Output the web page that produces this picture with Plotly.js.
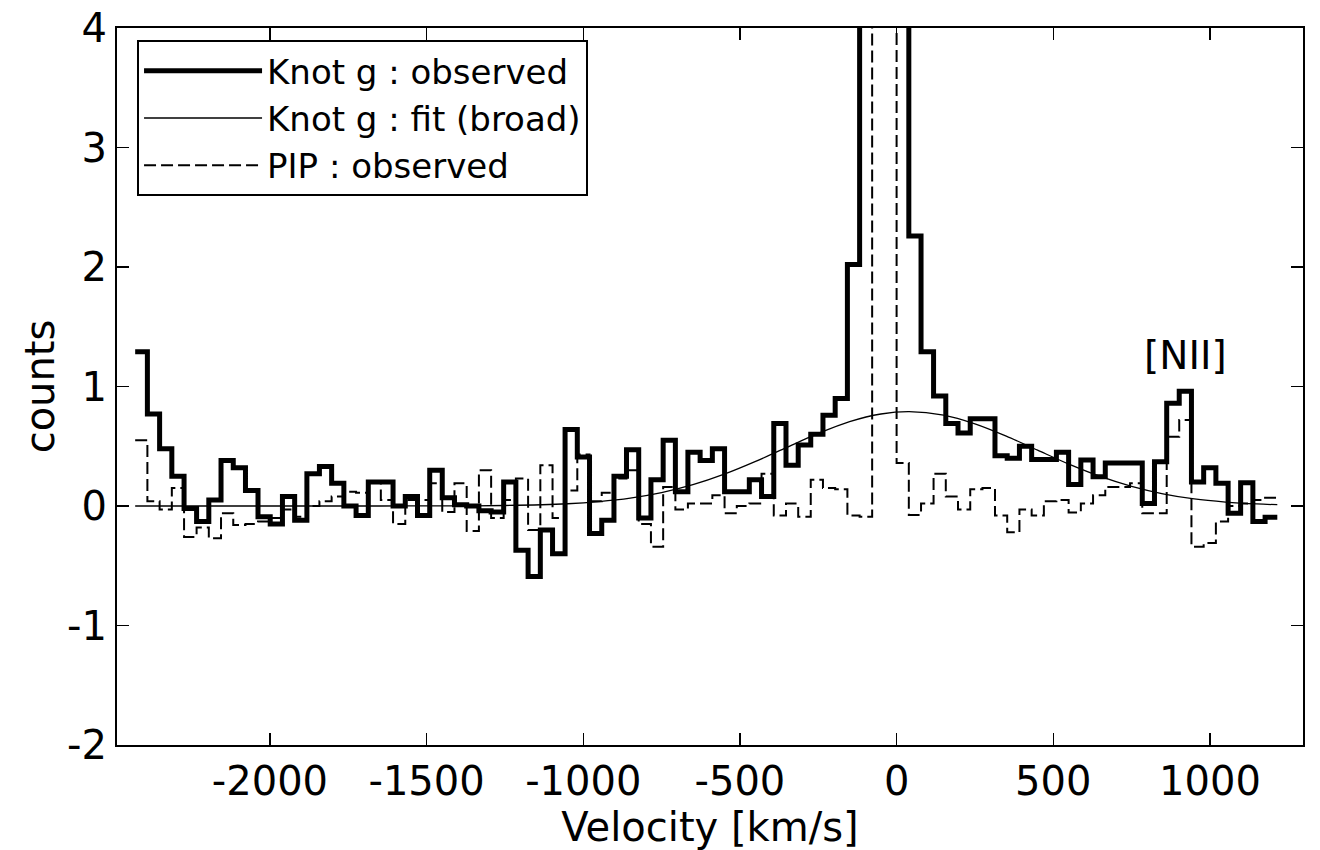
<!DOCTYPE html>
<html>
<head>
<meta charset="utf-8">
<script src="https://cdn.plot.ly/plotly-3.0.1.min.js"></script>
<style>
  html, body { margin: 0; padding: 0; background: #fff; }
  #chart { width: 1320px; height: 850px; }
</style>
</head>
<body>
<div id="chart"></div>
<script>
// Velocity bin edges [km/s] (left edges, final value = right edge of last bin)
const binEdges = [
  -2430, -2391, -2352, -2313, -2274, -2234, -2195, -2156, -2117, -2078,
  -2038, -1999, -1960, -1921, -1882, -1842, -1803, -1764, -1725, -1686,
  -1646, -1607, -1568, -1529, -1490, -1450, -1411, -1372, -1333, -1294,
  -1254, -1215, -1176, -1137, -1098, -1058, -1019, -980, -941, -902,
  -862, -823, -784, -745, -706, -666, -627, -588, -549, -510,
  -470, -431, -392, -353, -314, -274, -235, -196, -157, -118,
  -78, -39, 0, 39, 78, 118, 157, 196, 235, 274,
  314, 353, 392, 431, 470, 510, 549, 588, 627, 666,
  706, 745, 784, 823, 862, 902, 941, 980, 1019, 1058,
  1098, 1137, 1176, 1215
];

// Knot g : observed (counts per bin)
const knotObserved = [
  1.29, 0.77, 0.48, 0.25, -0.02, -0.13, 0.05, 0.38, 0.32, 0.13,
  -0.09, -0.15, 0.08, -0.12, 0.27, 0.33, 0.19, 0.00, -0.08, 0.20,
  0.20, 0.00, 0.08, -0.08, 0.30, 0.07, 0.01, 0.00, -0.04, -0.05,
  0.20, -0.37, -0.59, -0.20, -0.40, 0.64, 0.41, -0.23, -0.12, 0.25,
  0.47, -0.10, 0.22, 0.55, 0.12, 0.45, 0.38, 0.48, 0.12, 0.12,
  0.22, 0.08, 0.69, 0.34, 0.51, 0.60, 0.76, 0.90, 2.02, 6.50,
  9.00, 9.50, 7.00, 2.26, 1.29, 0.92, 0.69, 0.61, 0.73, 0.73,
  0.42, 0.40, 0.50, 0.39, 0.39, 0.45, 0.18, 0.385, 0.245, 0.36,
  0.36, 0.36, 0.02, 0.37, 0.86, 0.96, 0.20, 0.32, 0.19, -0.06,
  0.195, -0.13, -0.095
];

// PIP : observed (counts per bin)
const pipObserved = [
  0.55, 0.04, -0.03, 0.15, -0.26, -0.18, -0.27, -0.06, -0.16, -0.15,
  -0.13, -0.10, -0.03, -0.09, 0.00, 0.04, 0.08, 0.12, 0.11, 0.20,
  0.05, -0.15, 0.05, 0.05, 0.19, -0.05, 0.19, -0.21, 0.30, -0.10,
  0.05, 0.23, -0.20, 0.34, -0.10, 0.13, 0.43, 0.04, 0.11, 0.23,
  0.30, -0.15, -0.34, 0.16, -0.03, 0.02, 0.02, 0.09, -0.06, 0.00,
  0.02, 0.27, -0.08, 0.02, -0.09, 0.22, 0.15, 0.14, -0.08, -0.09,
  8.00, 8.00, 0.36, -0.075, 0.02, 0.27, 0.08, -0.03, 0.14, 0.15,
  -0.08, -0.22, -0.03, -0.08, 0.04, 0.05, -0.055, 0.02, 0.09, 0.16,
  0.16, 0.19, -0.06, -0.06, 0.58, 0.72, -0.34, -0.31, -0.13, 0.00,
  0.02, 0.05, 0.07
];

// Knot g : fit (broad) — sampled from the curve
const fitVelocity = [
  -2430, -2000, -1650, -1450, -1250, -1050, -950, -850, -750, -650,
  -550, -450, -350, -250, -150, -50, 40, 150, 250, 350,
  450, 550, 650, 750, 850, 950, 1050, 1150, 1215
];
const fitCounts = [
  0.000, 0.000, 0.000, 0.001, 0.004, 0.019, 0.037, 0.066, 0.112, 0.178,
  0.266, 0.373, 0.491, 0.607, 0.706, 0.770, 0.790, 0.761, 0.688, 0.585,
  0.467, 0.350, 0.247, 0.164, 0.102, 0.059, 0.033, 0.017, 0.011
];

// Axis ticks
const xTickVals = [-2000, -1500, -1000, -500, 0, 500, 1000];
const xTickText = ['-2000', '-1500', '-1000', '-500', '0', '500', '1000'];
const yTickVals = [-2, -1, 0, 1, 2, 3, 4];
const yTickText = ['-2', '-1', '0', '1', '2', '3', '4'];

// Labels
const seriesNames = ['Knot g : observed', 'Knot g : fit (broad)', 'PIP : observed'];
const lineLabel = '[NII]';
const lineLabelVelocity = 921;
const lineLabelCounts = 1.26;

const FONT = 'DejaVu Sans, Bitstream Vera Sans, sans-serif';

function stepY(vals) { return vals.concat([vals[vals.length - 1]]); }

const traces = [
  {
    x: binEdges, y: stepY(knotObserved), name: seriesNames[0],
    type: 'scatter', mode: 'lines',
    line: { shape: 'hv', color: '#000', width: 5 }
  },
  {
    x: fitVelocity, y: fitCounts, name: seriesNames[1],
    type: 'scatter', mode: 'lines',
    line: { shape: 'spline', smoothing: 0.8, color: '#000', width: 1.3 }
  },
  {
    x: binEdges, y: stepY(pipObserved), name: seriesNames[2],
    type: 'scatter', mode: 'lines',
    line: { shape: 'hv', color: '#000', width: 2, dash: '12px,5px' }
  }
];

const axisCommon = {
  showline: true, linecolor: '#000', linewidth: 2, mirror: 'ticks',
  ticks: 'inside', ticklen: 12, tickwidth: 1.5, tickcolor: '#000',
  showgrid: false, zeroline: false,
  tickfont: { family: FONT, size: 40, color: '#000' }
};

const layout = {
  width: 1320, height: 850,
  margin: { l: 117, r: 17, t: 28, b: 105 },
  paper_bgcolor: '#fff', plot_bgcolor: '#fff',
  font: { family: FONT, color: '#000' },
  showlegend: true,
  legend: {
    x: 0.0169, y: 0.983, xanchor: 'left', yanchor: 'top',
    bgcolor: '#fff', bordercolor: '#000', borderwidth: 2,
    font: { family: FONT, size: 34, color: '#000' },
    itemwidth: 118, tracegroupgap: 0
  },
  xaxis: Object.assign({}, axisCommon, {
    range: [-2488, 1297], tickmode: 'array', tickvals: xTickVals, ticktext: xTickText,
    title: { text: 'Velocity [km/s]', font: { family: FONT, size: 40, color: '#000' }, standoff: 6 },
    automargin: false
  }),
  yaxis: Object.assign({}, axisCommon, {
    range: [-2, 4], tickmode: 'array', tickvals: yTickVals, ticktext: yTickText,
    title: { text: 'counts', font: { family: FONT, size: 40, color: '#000' }, standoff: 0 },
    automargin: false
  }),
  annotations: [{
    x: lineLabelVelocity, y: lineLabelCounts, xref: 'x', yref: 'y',
    text: lineLabel, showarrow: false, xanchor: 'center', yanchor: 'middle',
    font: { family: FONT, size: 39, color: '#000' }
  }]
};

Plotly.newPlot('chart', traces, layout, { staticPlot: true, displayModeBar: false });
</script>
</body>
</html>
